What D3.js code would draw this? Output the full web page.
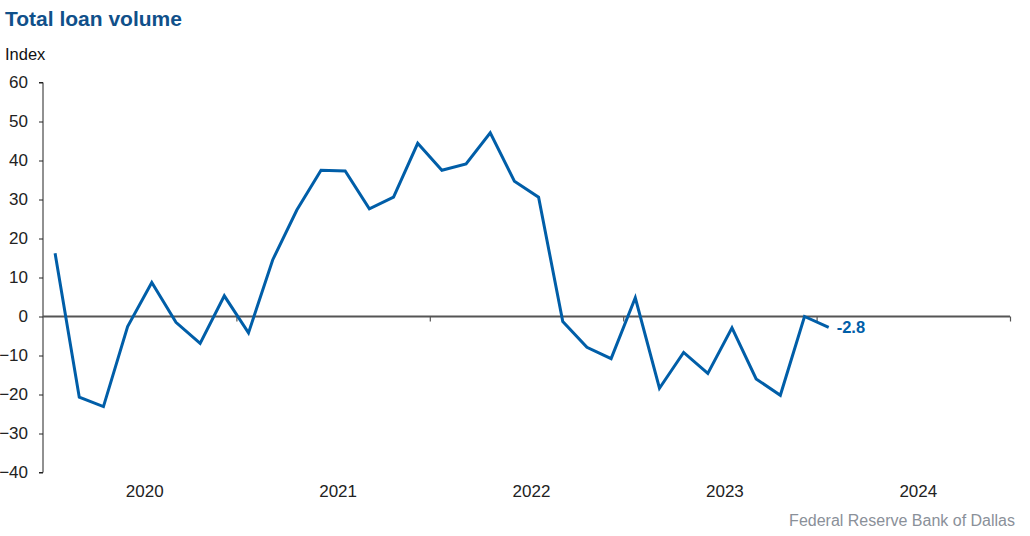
<!DOCTYPE html>
<html><head><meta charset="utf-8">
<script src="https://cdn.jsdelivr.net/npm/d3@7"></script>
<style>body{margin:0;background:#fff}svg{display:block;font-family:"Liberation Sans",Arial,sans-serif}</style>
</head><body><svg id="c" width="1030" height="536"></svg>
<script>
const years = ["2020","2021","2022","2023","2024"];
const periodsPerYear = 8;
const values = [16.2,-20.7,-23.1,-2.6,8.7,-1.5,-6.9,5.3,-4.2,14.5,27.3,37.5,37.3,27.6,30.6,44.4,37.5,39.1,47.1,34.7,30.6,-1.3,-7.9,-10.8,4.8,-18.4,-9.2,-14.6,-2.9,-16.0,-20.2,0.0,-2.8];
const yTicks = [60,50,40,30,20,10,0,-10,-20,-30,-40];
const lastLabel = "-2.8";

(function(){
const svg = d3.select("#c");
const mL = 43, mR = 1010, mT = 82.5, mB = 472.5;
const nSlots = years.length * periodsPerYear;
const x = d3.scaleLinear().domain([0, nSlots]).range([mL, mR]);
const y = d3.scaleLinear().domain([-40, 60]).range([mB, mT]);

svg.append("text").attr("x",5).attr("y",26).attr("fill","#10508a")
  .attr("font-size",21).attr("font-weight","bold").text("Total loan volume");
svg.append("text").attr("x",5).attr("y",60).attr("fill","#111")
  .attr("font-size",16.5).text("Index");

const ya = svg.append("g").attr("transform",`translate(${mL},0)`)
  .call(d3.axisLeft(y).tickValues(yTicks).tickSize(4).tickPadding(11).tickFormat(d3.format("d")));
ya.select(".domain").attr("stroke","#222").attr("d",`M-4,${mT}H0V${mB}H-4`);
ya.selectAll(".tick line").attr("stroke","#222");
ya.selectAll(".tick text").attr("font-size",17).attr("fill","#222").attr("font-family","Liberation Sans, Arial, sans-serif");

const xa = svg.append("g").attr("transform",`translate(0,${y(0)})`)
  .call(d3.axisBottom(x).tickValues(d3.range(periodsPerYear, nSlots+1, periodsPerYear)).tickSize(5).tickFormat(""));
xa.select(".domain").attr("stroke","#555").attr("stroke-width",2).attr("d",`M${mL},0H${mR}`);
xa.selectAll(".tick line").attr("stroke","#555").attr("stroke-width",1.2);

svg.append("g").selectAll("text").data(years).join("text")
  .attr("x",(d,i)=>x(i*periodsPerYear + periodsPerYear/2) + 5)
  .attr("y",497).attr("text-anchor","middle").attr("font-size",17).attr("fill","#222").text(d=>d);

const line = d3.line().x((d,i)=>x(i+0.5)).y(d=>y(d));
svg.append("path").datum(values).attr("d",line).attr("fill","none")
  .attr("stroke","#005ea8").attr("stroke-width",3).attr("stroke-linejoin","miter");

const li = values.length-1;
svg.append("text").attr("x",x(li+0.5)+8).attr("y",y(values[li])+6)
  .attr("fill","#005ea8").attr("font-size",16.5).attr("font-weight","bold").text(lastLabel);

svg.append("text").attr("x",1015).attr("y",526).attr("text-anchor","end")
  .attr("fill","#8a9099").attr("font-size",16).text("Federal Reserve Bank of Dallas");
})();
</script></body></html>
